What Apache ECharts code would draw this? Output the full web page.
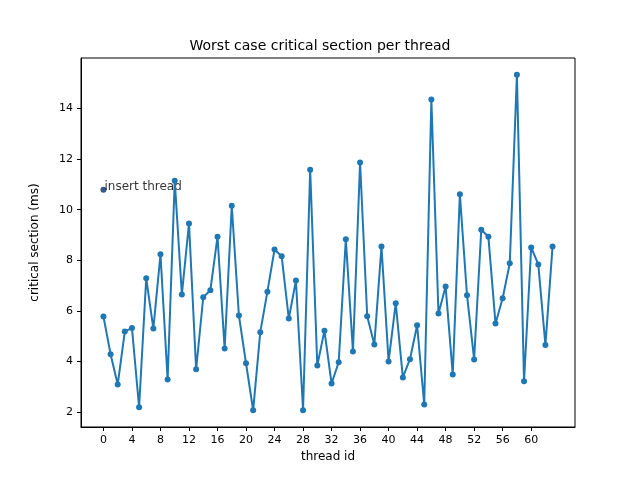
<!DOCTYPE html>
<html><head><meta charset="utf-8">
<script src="https://cdn.jsdelivr.net/npm/echarts@6/dist/echarts.min.js"></script>
<style>body{margin:0}#c{width:640px;height:480px}</style>
</head><body><div id="c"></div>
<script>
var threadValues = [5.78,4.29,3.09,5.19,5.32,2.19,7.29,5.30,8.24,3.29,11.15,6.65,9.46,3.69,6.54,6.82,
  8.93,4.51,10.16,5.82,3.93,2.07,5.16,6.76,8.43,8.16,5.70,7.20,2.07,11.58,3.84,5.22,
  3.13,3.97,8.83,4.40,11.87,5.79,4.67,8.55,4.00,6.30,3.37,4.09,5.43,2.30,14.36,5.90,
  6.97,3.49,10.61,6.62,4.08,9.21,8.93,5.50,6.50,7.88,15.34,3.22,8.51,7.84,4.65,8.55];
var insertThread = [0, 10.79];
var xTicks = [0,4,8,12,16,20,24,28,32,36,40,44,48,52,56,60];
var yTicks = [2,4,6,8,10,12,14];

var lineData = [];
for (var i = 0; i < threadValues.length; i++) lineData.push([i, threadValues[i]]);

var chart = echarts.init(document.getElementById('c'));
var ff = 'DejaVu Sans';
chart.setOption({
  animation: false,
  textStyle: {fontFamily: ff},
  title: {text: 'Worst case critical section per thread', left: 'center', top: 34,
    textStyle: {fontFamily: ff, fontSize: 14, fontWeight: 'normal', color: '#000'}},
  grid: {left: 81, right: 65, top: 58, bottom: 53},
  xAxis: {
    type: 'value', min: -3.15, max: 66.15,
    name: 'thread id', nameLocation: 'middle', nameGap: 22,
    nameTextStyle: {fontFamily: ff, fontSize: 12, color: '#000'},
    axisLine: {onZero: false, lineStyle: {color: '#000'}},
    axisTick: {show: true, customValues: xTicks, length: 4, inside: false, lineStyle: {color: '#000'}},
    axisLabel: {customValues: xTicks, color: '#000', fontSize: 11, fontFamily: ff},
    splitLine: {show: false}
  },
  yAxis: {
    type: 'value', min: 1.41, max: 16.0,
    name: 'critical section (ms)', nameLocation: 'middle', nameGap: 40,
    nameTextStyle: {fontFamily: ff, fontSize: 12, color: '#000'},
    axisLine: {show: true, onZero: false, lineStyle: {color: '#000'}},
    axisTick: {show: true, customValues: yTicks, length: 4, lineStyle: {color: '#000'}},
    axisLabel: {customValues: yTicks, color: '#000', fontSize: 11, fontFamily: ff},
    splitLine: {show: false}
  },
  series: [
    {type: 'line', data: lineData, symbol: 'circle', symbolSize: 6,
      itemStyle: {color: '#1f77b4'}, lineStyle: {color: '#1f77b4', width: 2}},
    {type: 'scatter', data: [insertThread], symbolSize: 6, itemStyle: {color: '#08306b'},
      label: {show: true, formatter: 'insert thread', position: 'right', distance: -2, offset: [0, -3],
        color: '#000', fontSize: 12, fontFamily: ff}}
  ]
});
// frame on top and right like matplotlib
chart.setOption({graphic: [{type: 'rect', shape: {x: 81, y: 58, width: 494, height: 369},
  style: {fill: 'none', stroke: '#000', lineWidth: 1}, silent: true}]});
</script></body></html>
